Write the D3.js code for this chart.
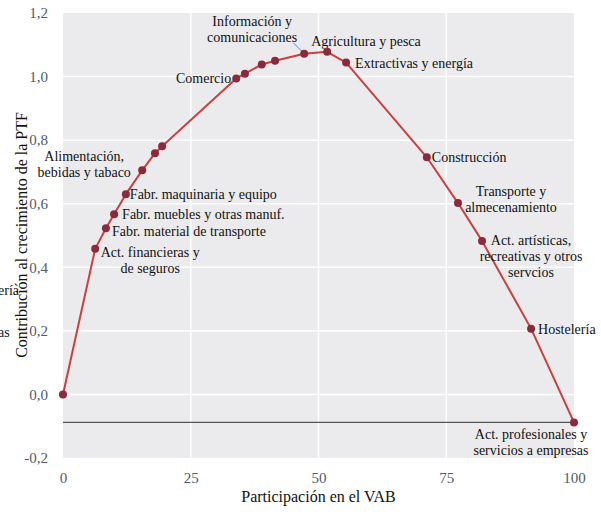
<!DOCTYPE html>
<html>
<head>
<meta charset="utf-8">
<script src="https://cdn.jsdelivr.net/npm/d3@7"></script>
<style>
  body { margin: 0; background: #fff; }
  svg text { font-family: 'Liberation Serif', 'Times New Roman', serif !important; }
</style>
</head>
<body>
<svg id="chart" width="601" height="512"></svg>
<script>
// sector names, share of VAB (cumulative, %) and contribution to PTF growth
var sectors = [ '', 'Act. financieras y|de seguros', 'Fabr. material de transporte', 'Fabr. muebles y otras manuf.',
    'Fabr. maquinaria y equipo', 'Alimentación,|bebidas y tabaco', '', '', 'Comercio', '', '', '',
    'Información y|comunicaciones', 'Agricultura y pesca', 'Extractivas y energía', 'Construcción',
    'Transporte y|almecenamiento', 'Act. artísticas,|recreativas y otros|servcios', 'Hostelería',
    'Act. profesionales y|servicios a empresas' ];
var vabShare = [ 0, 6.3, 8.4, 10.0, 12.3, 15.5, 18.0, 19.4, 33.9, 35.6, 38.9, 41.5, 47.2, 51.7, 55.4, 71.2, 77.3, 82.0, 91.6, 100 ];
var ptfContrib = [ 0, 0.458, 0.523, 0.567, 0.630, 0.705, 0.759, 0.781, 0.994, 1.009, 1.038, 1.050, 1.072, 1.078, 1.044, 0.746, 0.602, 0.483, 0.207, -0.088 ];
var xTicks = [ 0, 25, 50, 75, 100 ];
var yTicks = [ -0.2, 0, 0.2, 0.4, 0.6, 0.8, 1.0, 1.2 ];

var FONT = "'Liberation Serif', 'Times New Roman', serif";
var svg = d3.select( '#chart' );
var x = d3.scaleLinear().domain( [ 0, 100 ] ).range( [ 63, 574 ] );
var y = d3.scaleLinear().domain( [ -0.2, 1.2 ] ).range( [ 458, 13 ] );
var fmt = function( v ) { return d3.format( '.1f' )( v ).replace( '.', ',' ).replace( '−', '-' ); };

// panel + grid
svg.append( 'rect' ).attr( 'x', x( 0 ) ).attr( 'y', y( 1.2 ) )
   .attr( 'width', x( 100 ) - x( 0 ) ).attr( 'height', y( -0.2 ) - y( 1.2 ) ).attr( 'fill', '#ebebed' );
svg.selectAll( '.gy' ).data( yTicks.slice( 1, -1 ) ).enter().append( 'line' )
   .attr( 'x1', x( 0 ) ).attr( 'x2', x( 100 ) ).attr( 'y1', d => y( d ) ).attr( 'y2', d => y( d ) )
   .attr( 'stroke', '#fff' ).attr( 'stroke-width', 1.5 );
svg.selectAll( '.gx' ).data( xTicks.slice( 1, -1 ) ).enter().append( 'line' )
   .attr( 'x1', d => x( d ) ).attr( 'x2', d => x( d ) ).attr( 'y1', y( 1.2 ) ).attr( 'y2', y( -0.2 ) )
   .attr( 'stroke', '#fff' ).attr( 'stroke-width', 1.5 );

// axes
var xAxis = svg.append( 'g' ).attr( 'transform', 'translate(0,' + ( y( -0.2 ) + 6 ) + ')' )
   .call( d3.axisBottom( x ).tickValues( xTicks ).tickSize( 0 ).tickPadding( 8 ) );
var yAxis = svg.append( 'g' ).attr( 'transform', 'translate(' + ( x( 0 ) - 12 ) + ',0)' )
   .call( d3.axisLeft( y ).tickValues( yTicks ).tickSize( 0 ).tickFormat( fmt ) );
[ xAxis, yAxis ].forEach( function( a ) {
    a.attr( 'font-family', FONT );
    a.select( '.domain' ).remove();
    a.selectAll( 'text' ).attr( 'font-family', FONT ).attr( 'font-size', 15 ).attr( 'fill', '#4f5b6b' );
});

// reference line at last value
var last = ptfContrib[ ptfContrib.length - 1 ];
svg.append( 'line' ).attr( 'x1', x( 0 ) ).attr( 'x2', x( 100 ) ).attr( 'y1', y( last ) ).attr( 'y2', y( last ) )
   .attr( 'stroke', '#555' ).attr( 'stroke-width', 1.3 );

// curve
var pts = vabShare.map( function( v, i ) { return [ v, ptfContrib[ i ] ]; } );
svg.append( 'path' ).datum( pts )
   .attr( 'd', d3.line().x( d => x( d[ 0 ] ) ).y( d => y( d[ 1 ] ) ) )
   .attr( 'fill', 'none' ).attr( 'stroke', '#c8403f' ).attr( 'stroke-width', 2 ).attr( 'stroke-linejoin', 'round' );

// label placement (offset from point, anchor)
var labelPos = {
    1: [ 55, 8, 'middle' ], 2: [ 6, 8, 'start' ], 3: [ 8, 5, 'start' ], 4: [ 4, 5, 'start' ],
    5: [ -58, -9, 'middle' ], 8: [ -5, 5, 'end' ], 12: [ -52, -28, 'middle' ], 13: [ -16, -6, 'start' ],
    14: [ 9, 5, 'start' ], 15: [ 5, 5, 'start' ], 16: [ 53, -7, 'middle' ], 17: [ 49, 4, 'middle' ],
    18: [ 7, 5, 'start' ], 19: [ -43, 17, 'middle' ]
};
// leader line for Información y comunicaciones
svg.append( 'line' ).attr( 'x1', x( vabShare[ 12 ] ) - 11 ).attr( 'y1', y( ptfContrib[ 12 ] ) - 11 )
   .attr( 'x2', x( vabShare[ 12 ] ) - 1 ).attr( 'y2', y( ptfContrib[ 12 ] ) - 1 )
   .attr( 'stroke', '#4a8fd6' ).attr( 'stroke-width', 1 );

sectors.forEach( function( name, i ) {
    if ( !name || !labelPos[ i ] ) return;
    var p = labelPos[ i ];
    var t = svg.append( 'text' ).attr( 'font-family', FONT ).attr( 'font-size', 14 ).attr( 'fill', '#111' ).attr( 'text-anchor', p[ 2 ] );
    name.split( '|' ).forEach( function( line, j ) {
        t.append( 'tspan' ).attr( 'x', x( vabShare[ i ] ) + p[ 0 ] ).attr( 'y', y( ptfContrib[ i ] ) + p[ 1 ] + j * 16 ).text( line );
    });
});

// points
svg.selectAll( '.pt' ).data( pts ).enter().append( 'circle' )
   .attr( 'cx', d => x( d[ 0 ] ) ).attr( 'cy', d => y( d[ 1 ] ) ).attr( 'r', 4 ).attr( 'fill', '#8a2a3c' );

// labels clipped at the left edge, as in the source
svg.append( 'text' ).attr( 'x', -2 ).attr( 'y', 295 ).attr( 'font-family', FONT ).attr( 'font-size', 14 ).attr( 'fill', '#111' ).text( 'ería' );
svg.append( 'text' ).attr( 'x', -2 ).attr( 'y', 337 ).attr( 'font-family', FONT ).attr( 'font-size', 14 ).attr( 'fill', '#111' ).text( 'as' );

// axis titles
svg.append( 'text' ).attr( 'x', x( 50 ) ).attr( 'y', 502 ).attr( 'text-anchor', 'middle' ).attr( 'font-family', FONT )
   .attr( 'font-size', 16 ).attr( 'fill', '#111' ).text( 'Participación en el VAB' );
svg.append( 'text' ).attr( 'transform', 'translate(27,235) rotate(-90)' ).attr( 'text-anchor', 'middle' ).attr( 'font-family', FONT )
   .attr( 'font-size', 16 ).attr( 'fill', '#111' ).text( 'Contribución al crecimiento de la PTF' );
</script>
</body>
</html>
